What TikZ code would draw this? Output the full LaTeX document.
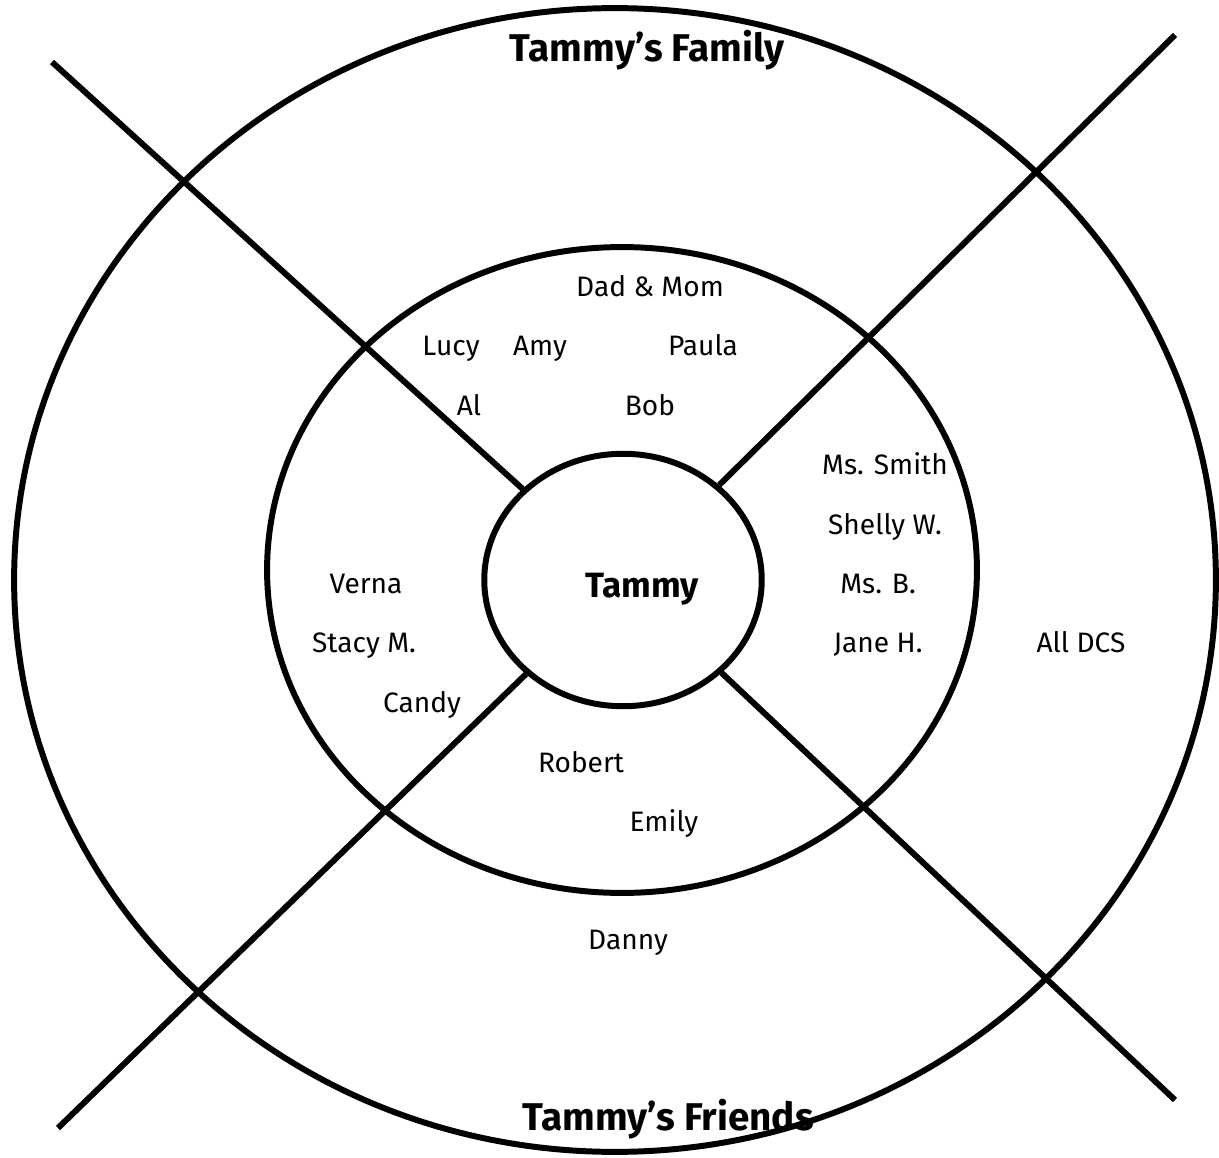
\documentclass[tikz,border=0pt]{standalone}
\usepackage{fontspec}
\setmainfont{Fira Sans}
\usetikzlibrary{shapes.geometric}
\tikzset{
  ring/.style={line width=3.4pt},
  spoke/.style={line width=3.4pt},
  who/.style={font=\fontsize{16}{19}\selectfont, inner sep=1pt, anchor=base, yshift=-0.19cm},
  heading/.style={font=\fontsize{22}{26}\selectfont\bfseries, inner sep=1pt, anchor=base, yshift=-0.27cm}
}
\begin{document}
\begin{tikzpicture}[x=0.02cm, y=-0.02cm]%cercles
\useasboundingbox (0,0) rectangle (1219,1158);

\draw [ring] (615,580) ellipse [x radius=12.02cm, y radius=11.44cm];
\draw [ring] (622,570) ellipse [x radius=7.1cm, y radius=6.46cm];
\node [ring, draw, ellipse, inner sep=0pt, minimum width=5.55cm, minimum height=5.05cm] (self) at (623,580) {};

\coordinate (nw) at (52,62);
\coordinate (ne) at (1175,35);
\coordinate (sw) at (58,1128);
\coordinate (se) at (1175,1100);
\foreach \c in {nw,ne,sw,se} {
\draw [spoke] (\c) -- (self);}

\node [heading] (family) at (647,48) {Tammy’s Family};
\node [heading] (friends) at (668,1117) {Tammy’s Friends};
\node [heading, font=\fontsize{20}{24}\selectfont\bfseries] (tammy) at (642,584) {Tammy};

\node [who] (dadmom) at (650,287) {Dad \& Mom};
\node [who] (lucy) at (451,346) {Lucy};
\node [who] (amy) at (540,346) {Amy};
\node [who] (paula) at (703,346) {Paula};
\node [who] (al) at (469,406) {Al};
\node [who] (bob) at (650,406) {Bob};

\node [who] (smith) at (885,465) {Ms. Smith};
\node [who] (shelly) at (885,525) {Shelly W.};
\node [who] (msb) at (878,584) {Ms. B.};
\node [who] (jane) at (878,643) {Jane H.};
\node [who] (dcs) at (1081,643) {All DCS};

\node [who] (verna) at (366,584) {Verna};
\node [who] (stacy) at (364,643) {Stacy M.};
\node [who] (candy) at (422,703) {Candy};
\node [who] (robert) at (581,763) {Robert};
\node [who] (emily) at (664,822) {Emily};
\node [who] (danny) at (628,940) {Danny};
\end{tikzpicture}
\end{document}
